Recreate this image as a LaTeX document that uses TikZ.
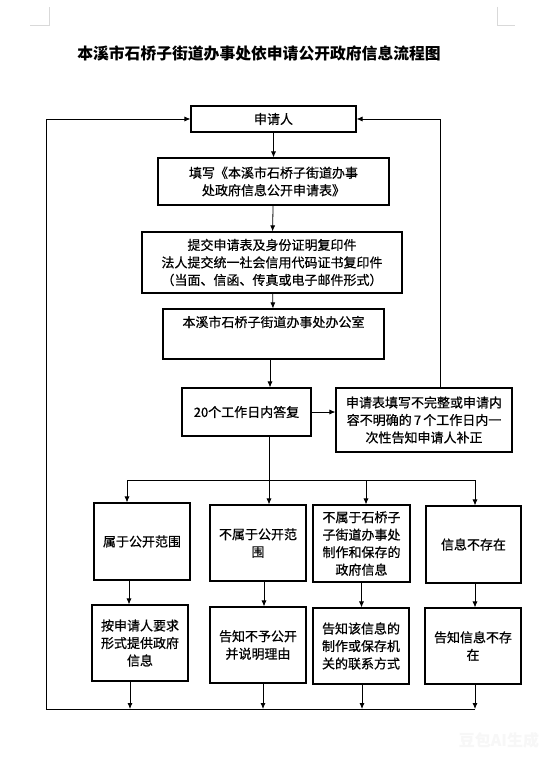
\documentclass[tikz,border=0pt]{standalone}
\usepackage{fontspec}
\newfontfamily\cjk{Noto Sans CJK SC}
\newfontfamily\cjkbox[FakeBold=0.6]{Noto Sans CJK SC}
\usepackage{tikz}
\usetikzlibrary{positioning}
\usetikzlibrary{arrows.meta}
\usetikzlibrary{calc}
\usetikzlibrary{math}

\tikzset{
  box/.style={draw, line width=1.1pt, align=center, inner sep=2pt,
    font=\cjkbox\fontsize{13}{17.5}\selectfont},
  flow/.style={line width=0.8pt, -{Latex[length=6pt,width=5pt]}},
  wire/.style={line width=0.8pt},
  cropmark/.style={line width=0.8pt, black!15},
}

\begin{document}
\begin{tikzpicture}[x=1pt,y=-1pt]

  \tikzmath{
    \branchy = 480; % height of the branching line
    \backy   = 709; % height of the collecting line at the bottom
    \backx   = 46;  % left return line
  }

  % page and crop marks
  \fill[white] (0,0) rectangle (553,762);
  \useasboundingbox (0,0) rectangle (553,762);
  \draw[cropmark] (30,25) -- (49,25) -- (49,7);
  \draw[cropmark] (497,7) -- (497,25) -- (515,25);

  % title
  \node (title) at (259,53) {\cjk\bfseries\fontsize{15.8}{16}\selectfont 本溪市石桥子街道办事处依申请公开政府信息流程图};

  % main column
  \node[box, minimum width=165, minimum height=26] (apply) at (273.5,119) {申请人};
  \node[box, minimum width=231, minimum height=47] (fill) at (273.5,181.5)
    {填写《本溪市石桥子街道办事\\处政府信息公开申请表》};
  \node[box, minimum width=260, minimum height=61] (submit) at (272,262.5)
    {提交申请表及身份证明复印件\\法人提交统一社会信用代码证书复印件\\（当面、信函、传真或电子邮件形式）};
  \node[box, minimum width=221, minimum height=50, text height=16pt, text depth=30pt] (office) at (273.5,334)
    {本溪市石桥子街道办事处办公室};
  \node[box, minimum width=129, minimum height=48] (reply) at (246.5,412) {20个工作日内答复};
  \node[box, minimum width=176, minimum height=64] (supp) at (424,420)
    {申请表填写不完整或申请内\\容不明确的\,7\,个工作日内一\\次性告知申请人补正};

  % four cases
  \node[box, minimum width=96, minimum height=77] (caseA) at (142,541.5) {属于公开范围};
  \node[box, minimum width=96, minimum height=76] (caseB) at (258,543) {不属于公开范\\围};
  \node[box, minimum width=97, minimum height=77] (caseC) at (361.5,543.5)
    {不属于石桥子\\子街道办事处\\制作和保存的\\政府信息};
  \node[box, minimum width=95, minimum height=77] (caseD) at (473.5,544.5) {信息不存在};

  % answers
  \node[box, minimum width=96, minimum height=76] (ansA) at (140,643)
    {按申请人要求\\形式提供政府\\信息};
  \node[box, minimum width=96, minimum height=76] (ansB) at (258,645)
    {告知不予公开\\并说明理由};
  \node[box, minimum width=96, minimum height=76] (ansC) at (361,646)
    {告知该信息的\\制作或保存机\\关的联系方式};
  \node[box, minimum width=96, minimum height=76] (ansD) at (473,646)
    {告知信息不存\\在};

  % watermark
  \node[text=black!3, font=\cjk\bfseries\fontsize{16}{16}\selectfont] (mark) at (499,740) {豆包AI生成};

  % main flow
  \draw[flow] (apply) -- (fill);
  \draw[flow] (fill) -- (submit);
  \draw[flow] (submit) -- (office);
  \draw[flow] ([xshift=-3.5pt]office.south) -- ([xshift=-3.5pt]office.south |- reply.north);
  \draw[flow] (reply) -- (reply.east -| supp.west);

  % return from the correction box
  \draw[flow] ([xshift=16pt]supp.north) |- (apply.east);

  % branching to the four cases
  \coordinate (split) at ($(reply.south)+(22.5,0)$);
  \coordinate (splitA) at (127,\branchy);
  \coordinate (splitD) at (475,\branchy);
  \draw[wire] (split) -- (split |- splitA);
  \draw[wire] (splitA) -- (splitD);
  \draw[flow] (splitA) -- (splitA |- caseA.north);
  \draw[flow] (split |- splitA) -- (split |- caseB.north);
  \draw[flow] (366,\branchy) -- (366,\branchy |- caseC.north);
  \draw[flow] (splitD) -- (splitD |- caseD.north);

  % cases to answers
  \draw[flow] ([xshift=-13pt]caseA.south) -- ([xshift=-13pt]caseA.south |- ansA.north);
  \draw[flow] ([xshift=6pt]caseB.south) -- ([xshift=6pt]caseB.south |- ansB.north);
  \draw[flow] (caseC.south) -- (caseC.south |- ansC.north);
  \draw[flow] ([xshift=1.5pt]caseD.south) -- ([xshift=1.5pt]caseD.south |- ansD.north);

  % collecting line back to the applicant
  \coordinate (back) at (\backx,\backy);
  \draw[flow] ([xshift=-10pt]ansA.south) -- ([xshift=-10pt]ansA.south |- back);
  \draw[flow] ([xshift=5pt]ansB.south) -- ([xshift=5pt]ansB.south |- back);
  \draw[flow] ([xshift=1pt]ansC.south) -- ([xshift=1pt]ansC.south |- back);
  \draw[flow] ([xshift=2pt]ansD.south) -- ([xshift=2pt]ansD.south |- back);
  \draw[wire] ([xshift=2pt]ansD.south |- back) -- (back);
  \draw[flow] (back) |- (apply.west);

\end{tikzpicture}
\end{document}
